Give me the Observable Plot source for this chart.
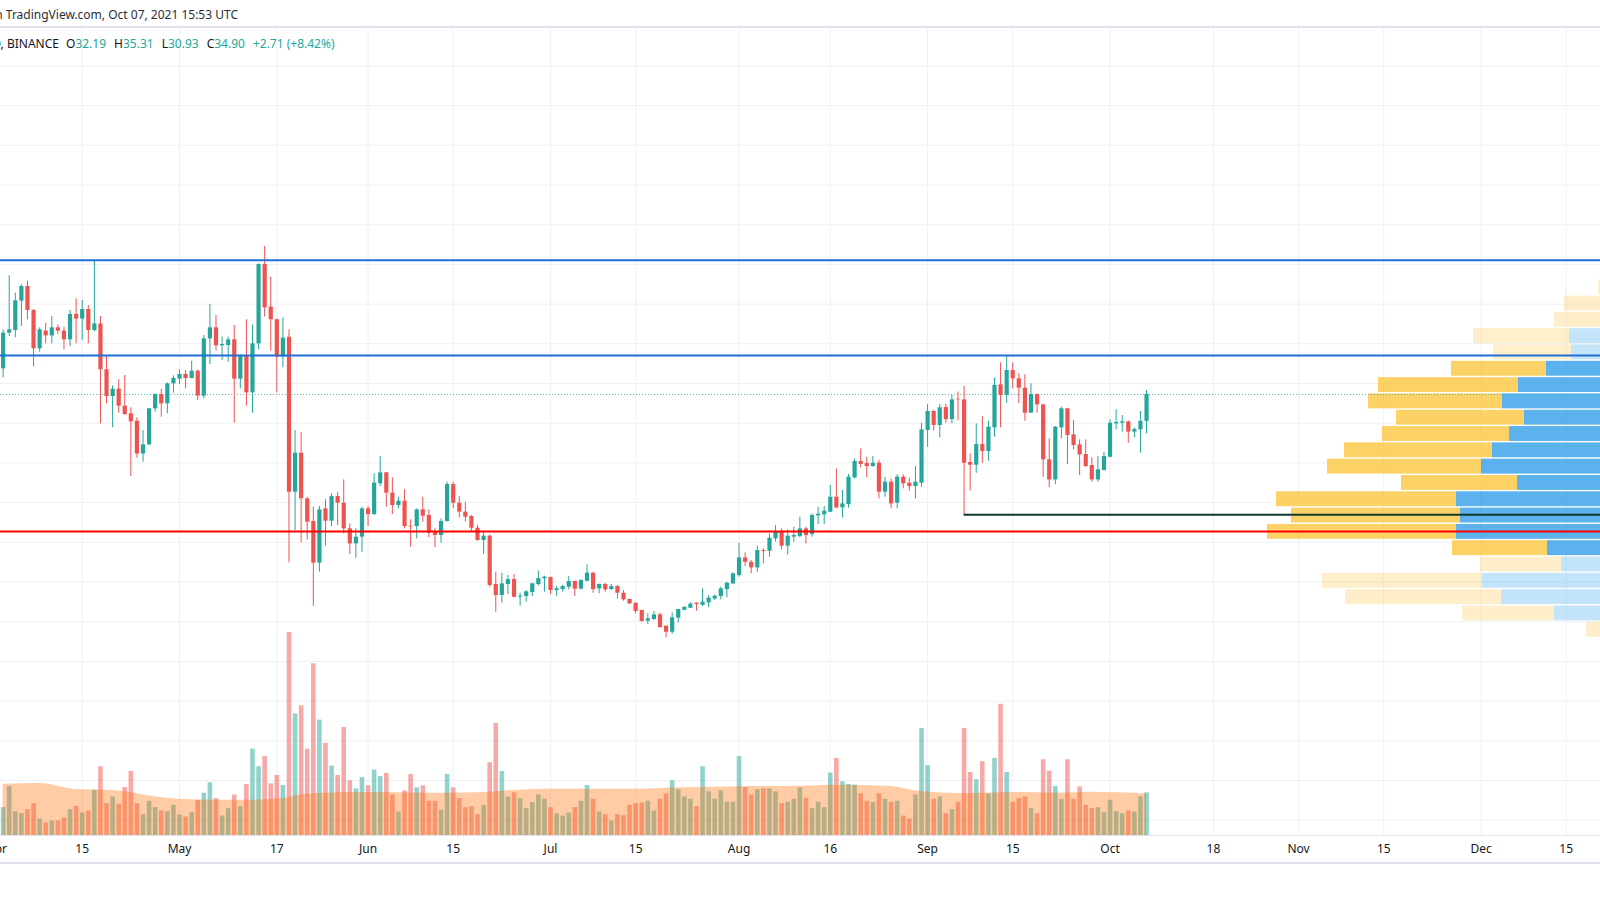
<!DOCTYPE html>
<html><head><meta charset="utf-8">
<script src="https://cdn.jsdelivr.net/npm/d3@7"></script>
<script src="https://cdn.jsdelivr.net/npm/@observablehq/plot@0.6"></script>
<style>
html,body{margin:0;padding:0;background:#fff;}
#wrap{position:relative;width:1600px;height:900px;overflow:hidden;background:#fff;font-family:"Noto Sans",sans-serif;color:#131722;}
.layer{position:absolute;left:0;top:27px;}
.hline{position:absolute;left:0;width:1600px;background:#e0e3eb;}
.hdr{position:absolute;white-space:nowrap;font-size:12px;line-height:18px;}
.k{color:#131722;} .v{color:#26a69a;margin-right:8px;}
</style></head>
<body><div id="wrap">
<div id="g" class="layer"></div>
<div id="vol" class="layer"></div>
<div id="prof" class="layer"></div>
<div id="px" class="layer"></div>
<div class="hline" style="top:26px;height:2px;"></div>
<div class="hline" style="top:835px;height:1px;"></div>
<div class="hline" style="top:862px;height:2px;"></div>
<div class="hdr" style="right:1362px;top:6px;color:#2a2e39;">Published on TradingView.com, Oct 07, 2021 15:53 UTC</div>
<div class="hdr" style="right:1541px;top:35px;color:#131722;">DOTUSDT, 1D, BINANCE</div>
<div class="hdr" id="ohlc" style="left:66px;top:35px;"></div>
</div>
<script>
// ---------- DATA ----------
const firstDay = "2021-04-02";
const lastDay = "2021-10-07";
const opens = [
37.48,41.07,41.34,44.30,45.78,43.36,39.50,41.28,40.80,41.61,41.28,40.40,42.96,42.49,43.46,41.34,42.00,37.38,34.69,35.43,33.72,32.95,32.20,28.90,29.82,33.45,34.89,33.95,35.97,
36.44,36.91,36.51,37.24,34.73,40.50,41.61,39.80,39.83,40.40,36.44,38.82,35.06,40.00,47.99,43.70,42.42,38.66,40.67,25.05,28.98,24.38,22.10,17.90,23.37,22.13,24.61,23.94,21.36,19.84,20.52,
23.37,22.80,25.90,27.00,24.95,23.71,24.14,21.62,21.59,23.27,22.70,21.02,20.69,22.10,25.82,23.94,23.04,22.60,21.42,20.18,20.62,15.75,14.64,15.75,16.25,14.47,14.54,14.94,15.75,16.32,
16.45,15.14,15.24,15.48,16.05,15.28,16.08,16.89,15.31,15.75,15.24,15.54,14.87,14.24,13.87,13.13,12.05,12.22,12.69,11.55,10.94,12.36,13.16,13.36,13.87,13.66,13.90,14.30,14.54,15.24,15.81,
16.65,18.43,17.99,17.42,19.17,19.10,20.35,21.02,19.61,20.52,20.58,21.35,20.78,22.67,22.77,23.03,24.54,23.47,23.80,26.49,28.14,27.94,27.64,27.97,25.05,26.06,23.94,26.56,25.96,25.62,25.96,
31.26,33.18,31.77,33.58,32.37,34.42,34.35,28.04,27.77,29.85,29.15,31.53,35.87,34.79,37.31,36.47,35.53,33.01,34.89,33.85,28.31,26.29,31.53,33.45,30.83,29.82,28.85,27.74,26.29,27.23,
28.57,31.93,32.00,32.14,31.10,31.33,32.19];
const highs = [
41.41,46.85,45.10,45.95,46.31,43.45,41.61,42.08,42.75,41.90,41.68,43.36,44.53,44.37,43.86,48.40,42.75,38.72,35.77,36.37,36.81,33.55,32.54,31.27,33.50,34.96,35.43,36.05,36.77,
37.38,37.31,38.25,37.38,40.84,43.96,42.85,40.67,40.67,41.85,38.90,42.42,41.91,48.05,49.81,46.72,42.50,42.62,41.41,31.27,31.07,24.55,23.54,23.61,24.28,24.88,25.05,26.29,21.86,21.36,23.54,
23.61,26.90,28.65,27.05,26.50,24.55,25.29,22.26,23.37,24.55,23.27,21.36,22.36,26.06,26.06,24.61,24.04,22.70,21.69,21.02,20.75,16.99,16.89,16.65,16.75,14.87,15.14,15.88,17.12,16.59,
16.50,15.54,15.65,16.55,16.10,16.22,17.73,16.99,15.80,15.88,15.75,15.65,15.14,14.30,13.90,13.15,12.79,13.03,12.86,11.58,12.89,13.25,13.53,13.93,13.90,15.31,14.64,14.70,15.48,15.98,16.92,
19.91,18.94,18.16,19.61,19.34,20.85,21.69,21.35,21.25,21.52,22.53,21.52,22.87,23.54,23.60,25.72,27.40,25.22,26.83,28.41,29.42,28.58,28.64,28.24,26.56,26.39,26.80,26.80,26.46,27.64,32.00,
33.88,33.28,33.88,33.90,34.79,35.13,35.70,28.91,31.94,32.67,32.20,36.54,38.08,38.72,38.08,36.97,36.87,35.97,34.95,33.90,30.42,31.67,33.62,33.51,32.27,30.32,30.32,28.51,28.64,29.08,
32.34,33.35,32.77,32.20,31.53,33.18,35.31];
const lows = [
36.57,40.74,40.60,41.75,42.42,37.65,39.16,40.00,40.00,40.94,39.40,39.73,40.00,40.34,40.00,41.20,31.94,33.95,31.54,33.01,32.78,26.63,28.48,28.07,29.75,33.11,32.61,32.95,35.03,
35.90,35.46,36.47,34.29,34.46,37.92,39.26,38.32,38.15,32.00,35.46,33.72,33.01,39.40,42.69,39.26,35.06,37.58,17.93,21.19,19.95,20.25,13.56,17.00,19.61,21.59,21.69,20.85,18.77,18.40,19.00,
21.59,22.70,25.62,23.54,22.80,23.37,21.36,19.51,20.35,22.03,20.45,19.44,19.91,22.03,23.37,22.46,22.03,21.00,20.11,18.77,15.48,12.96,13.87,14.74,14.40,13.56,13.97,14.54,15.58,14.97,
14.74,14.57,14.97,15.21,14.54,15.21,16.00,14.87,14.81,14.97,15.14,14.30,14.07,13.73,12.79,11.95,11.72,12.12,11.35,10.37,10.71,11.85,13.10,13.33,13.06,13.53,13.40,14.13,14.20,14.40,15.74,
16.48,17.56,16.82,16.99,17.83,18.50,20.04,19.24,18.73,20.01,20.45,19.84,20.51,21.79,21.79,23.00,23.37,22.46,23.44,26.39,27.50,26.49,27.57,24.38,24.54,23.37,23.37,25.39,25.15,24.38,25.55,
29.58,31.20,30.52,32.00,31.94,32.27,22.78,25.15,26.96,27.97,28.17,30.59,31.53,34.02,35.46,33.95,32.20,33.00,33.01,26.56,25.49,25.82,30.42,27.84,29.32,26.73,27.50,26.06,26.06,27.20,
28.51,31.33,31.10,29.99,30.52,28.98,30.93];
const closes = [
41.07,41.41,44.33,45.78,43.36,39.50,41.41,40.80,41.61,41.28,40.40,42.96,42.49,43.46,41.34,42.00,37.38,34.69,35.43,33.72,32.88,32.14,28.90,29.82,33.45,34.89,33.95,35.97,36.51,
36.91,36.51,37.24,34.73,40.50,41.61,39.80,39.93,40.40,36.44,38.82,35.06,40.00,47.99,43.63,42.42,38.66,40.57,25.05,28.98,24.38,22.03,17.90,23.27,22.13,24.61,23.94,21.36,19.84,20.52,23.37,
22.80,25.96,27.00,24.95,23.71,24.14,21.59,21.55,23.27,22.63,20.92,20.69,22.10,25.82,23.94,23.04,22.53,21.42,20.18,20.62,15.65,14.64,15.81,16.25,14.47,14.57,15.01,15.81,16.35,16.49,
15.14,15.31,15.54,16.05,15.28,16.15,16.89,15.24,15.75,15.21,15.54,14.87,14.20,13.80,13.03,12.02,12.29,12.69,11.41,10.94,12.39,13.23,13.43,13.77,13.73,13.98,14.37,14.57,15.31,15.88,16.82,
18.43,17.99,17.42,19.17,19.07,20.41,21.02,19.61,20.62,20.68,21.35,20.68,22.70,22.83,23.13,24.54,23.47,23.87,26.56,28.14,27.84,27.64,27.97,25.05,26.06,23.87,26.56,25.89,25.62,26.06,31.33,
33.18,31.77,33.55,32.36,34.35,34.35,27.97,27.77,29.85,29.15,31.60,35.80,34.79,37.31,36.47,35.53,33.01,34.89,33.85,28.31,26.29,31.60,33.45,30.76,29.75,28.81,27.64,26.29,27.30,28.64,
32.00,32.07,32.14,31.10,31.36,32.19,34.90];
// volume (millions)
const volumes = [
8.3,14.6,7.1,6.5,7.7,9.5,4.9,3.7,4.3,4.3,5.2,7.7,8.7,6.7,7.3,13.5,20.5,9.5,11.5,9.3,14.3,19.1,9.5,6.2,10.2,8.3,7.3,7.1,9.0,
6.1,5.5,6.8,10.5,12.6,15.7,11.0,5.8,8.0,12.1,8.6,15.2,25.7,20.5,23.5,15.4,17.9,14.9,60.5,36.2,38.7,25.7,51.2,34.4,27.5,20.7,17.9,32.2,16.3,13.9,17.3,
14.8,19.5,17.6,18.5,12.1,7.0,13.3,18.2,14.2,14.8,10.2,10.2,7.6,18.2,14.2,11.0,8.3,8.6,6.2,9.0,21.7,33.4,19.1,11.5,12.7,11.0,8.0,9.8,12.1,10.8,
8.3,6.5,5.8,6.7,8.3,10.2,14.9,10.8,7.0,6.2,4.3,6.2,5.9,9.0,9.5,9.7,10.2,7.3,10.8,12.4,16.3,13.6,11.5,10.8,8.6,20.5,13.0,10.8,13.3,9.9,9.9,
23.5,14.3,12.1,13.6,13.9,13.9,13.0,9.5,9.9,10.8,14.2,11.1,8.0,9.9,8.3,18.6,23.0,16.0,15.2,15.0,12.4,10.2,9.8,12.4,10.8,9.9,10.2,5.8,4.9,12.1,31.9,
20.8,10.8,11.5,6.5,7.7,9.9,31.9,18.8,16.6,22.0,12.4,23.0,39.1,18.8,9.9,11.1,11.5,8.0,6.5,22.6,19.2,14.6,10.8,22.6,10.8,14.5,9.0,8.0,8.3,6.8,
10.5,7.1,6.5,7.3,7.0,11.5,12.7];
// volume moving average, read at selected days
const maDates = ["2021-04-02","2021-04-08","2021-04-14","2021-04-20","2021-04-23","2021-04-26","2021-05-01","2021-05-06","2021-05-12","2021-05-18","2021-05-20","2021-05-24","2021-05-30","2021-06-08","2021-06-14","2021-06-20","2021-06-24","2021-06-30","2021-07-15","2021-07-23","2021-08-01","2021-08-11","2021-08-17","2021-08-26","2021-08-30","2021-09-06","2021-09-10","2021-09-16","2021-09-22","2021-09-28","2021-10-07"];
const maValues = [15.3,15.5,13.7,13.4,12.8,11.8,10.8,10.5,10.5,11.0,11.8,12.5,12.8,12.7,12.6,12.8,13.3,13.8,13.8,14.2,14.5,14.7,15.0,14.6,13.3,12.5,12.6,12.8,12.6,12.9,12.4];
// visible-range volume profile, 24 rows from bottom to top (millions, visible part)
const profileDown = [1.4,9.2,15.6,16.0,8.1,9.5,18.9,16.9,18.0,11.6,15.4,14.8,12.7,12.8,13.4,14.0,9.5,7.8,9.6,4.6,3.6,0.2,0,0];
const profileUp   = [0,4.6,9.9,11.8,3.9,5.3,14.4,14.0,14.4,8.3,11.9,10.8,9.1,7.6,9.8,8.2,5.4,2.9,3.1,0,0,0,0,0];
const valueAreaRows = [5, 16];
// drawn levels
const resistanceLevels = [48.42, 38.82];
const supportLevel = 21.1;
const sep7LowDate = "2021-09-07";
const sep7Low = 22.78;
// axes
const priceGrid = [-8,-4,0,4,8,12,16,20,24,28,32,36,40,44,48,52,56,60,64,68];
const tickDates = ["2021-04-01","2021-04-15","2021-05-01","2021-05-17","2021-06-01","2021-06-15","2021-07-01","2021-07-15","2021-08-01","2021-08-16","2021-09-01","2021-09-15","2021-10-01","2021-10-18","2021-11-01","2021-11-15","2021-12-01","2021-12-15"];
const tickLabels = ["Apr","15","May","17","Jun","15","Jul","15","Aug","16","Sep","15","Oct","18","Nov","15","Dec","15"];
const legend = {O: "32.19", H: "35.31", L: "30.93", C: "34.90", change: "+2.71 (+8.42%)"};

// ---------- BUILD ----------
const UP = "#26a69a", DOWN = "#ef5350";
const dates = d3.utcDay.range(new Date(firstDay + "T00:00Z"), d3.utcDay.offset(new Date(lastDay + "T00:00Z"), 1));
const candles = dates.map((date, i) => ({date, open: opens[i], high: highs[i], low: lows[i], close: closes[i], volume: volumes[i], up: closes[i] >= opens[i]}));
const ma = maDates.map((d, i) => ({date: new Date(d + "T00:00Z"), value: maValues[i]}));
const ticks = tickDates.map((d, i) => ({date: new Date(d + "T00:00Z"), label: tickLabels[i]}));
const lo = d3.min(lows), hi = d3.max(highs), step = (hi - lo) / profileDown.length;
const rows = profileDown.map((dn, i) => ({y1: lo + i * step, y2: lo + (i + 1) * step, down: dn, up: profileUp[i], va: i >= valueAreaRows[0] && i <= valueAreaRows[1]}));

const xDomain = [new Date("2021-04-01T13:36:00Z"), new Date("2021-12-20T15:22:00Z")];
const priceDomain = [-9.54, 71.87];
const base = {width: 1600, height: 808, marginTop: 0, marginRight: 0, marginBottom: 0, marginLeft: 0,
  style: {background: "transparent", fontFamily: "'Noto Sans', sans-serif", fontSize: "12px"}};
const xs = {type: "utc", domain: xDomain, axis: null};

document.getElementById("g").appendChild(Plot.plot({...base, height: 836, marginBottom: 28,
  x: xs, y: {domain: priceDomain, axis: null},
  marks: [
    Plot.ruleY(priceGrid, {stroke: "#eef0f5", strokeWidth: 1}),
    Plot.ruleX(ticks, {x: "date", stroke: "#eef0f5", strokeWidth: 1}),
    Plot.text(ticks, {x: "date", text: "label", frameAnchor: "bottom", dy: 17, fill: "#131722", fontSize: 12})
  ]}));

document.getElementById("vol").appendChild(Plot.plot({...base,
  x: xs, y: {domain: [0, 240.8], axis: null}, color: {type: "identity"},
  marks: [
    Plot.ruleX(candles, {x: "date", y1: 0, y2: "volume", stroke: d => d.up ? "rgba(38,166,154,0.5)" : "rgba(239,83,80,0.5)", strokeWidth: 4.6}),
    Plot.areaY(ma, {x: "date", y: "value", fill: "#ff6d00", fillOpacity: 0.35, curve: "monotone-x"})
  ]}));

document.getElementById("prof").appendChild(Plot.plot({...base,
  x: {domain: [160, 0], axis: null}, y: {domain: priceDomain, axis: null}, color: {type: "identity"},
  marks: [
    Plot.rect(rows, {x1: 0, x2: "up", y1: "y1", y2: "y2", fill: d => d.va ? "rgba(21,146,230,0.7)" : "rgba(21,146,230,0.25)", insetTop: 0.7, insetBottom: 0.7}),
    Plot.rect(rows, {x1: "up", x2: d => d.up + d.down, y1: "y1", y2: "y2", fill: d => d.va ? "rgba(251,192,45,0.72)" : "rgba(251,192,45,0.25)", insetTop: 0.7, insetBottom: 0.7})
  ]}));

document.getElementById("px").appendChild(Plot.plot({...base,
  x: xs, y: {domain: priceDomain, axis: null}, color: {type: "identity"},
  marks: [
    Plot.ruleY([closes[closes.length - 1]], {stroke: UP, strokeWidth: 1, strokeDasharray: "1,2", strokeOpacity: 0.8}),
    Plot.ruleX(candles, {x: "date", y1: "low", y2: "high", stroke: d => d.up ? UP : DOWN, strokeWidth: 1}),
    Plot.ruleX(candles, {x: "date", y1: "open", y2: "close", stroke: d => d.up ? UP : DOWN, strokeWidth: 4.2}),
    Plot.ruleY(resistanceLevels, {stroke: "#1e6fd6", strokeWidth: 2}),
    Plot.ruleY([supportLevel], {stroke: "#ff0000", strokeWidth: 2}),
    Plot.ruleY([{y: sep7Low, x1: new Date(sep7LowDate + "T00:00Z"), x2: xDomain[1]}], {y: "y", x1: "x1", x2: "x2", stroke: "#0f3a2b", strokeWidth: 2})
  ]}));

const o = document.getElementById("ohlc");
o.innerHTML = ["O","H","L","C"].map(k => `<span class="k">${k}</span><span class="v">${legend[k]}</span>`).join("") + `<span class="v">${legend.change}</span>`;
</script>
</body></html>
